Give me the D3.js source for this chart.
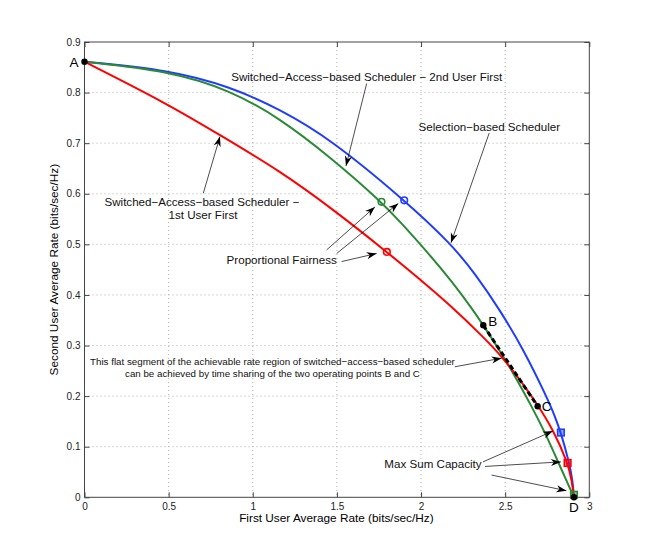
<!DOCTYPE html>
<html>
<head>
<meta charset="utf-8">
<script src="https://cdn.jsdelivr.net/npm/d3@7"></script>
<style>
  body { margin: 0; background: #fff; }
  svg { font-family: "Liberation Sans", Arial, Helvetica, sans-serif; }
</style>
</head>
<body>
<svg id="chart"></svg>
<script>
// axis ticks
const xTicks = [0, 0.5, 1, 1.5, 2, 2.5, 3];
const yTicks = [0, 0.1, 0.2, 0.3, 0.4, 0.5, 0.6, 0.7, 0.8, 0.9];

// selection-based scheduler (blue)
const selX = [0, 0.498, 0.865, 1.162, 1.459, 1.900, 2.177, 2.326, 2.469, 2.611, 2.746, 2.796, 2.831, 2.881, 2.900, 2.909];
const selY = [0.861, 0.845, 0.812, 0.767, 0.709, 0.588, 0.502, 0.440, 0.370, 0.291, 0.199, 0.160, 0.128, 0.068, 0.035, 0];

// switched-access, 2nd user first (green)
const sw2X = [0, 0.498, 0.865, 1.162, 1.459, 1.765, 1.875, 2.053, 2.182, 2.310, 2.370, 2.493, 2.570, 2.647, 2.736, 2.825, 2.909];
const sw2Y = [0.861, 0.843, 0.805, 0.749, 0.673, 0.584, 0.545, 0.479, 0.427, 0.370, 0.340, 0.277, 0.232, 0.186, 0.129, 0.062, 0];

// switched-access, 1st user first (red)
const sw1X = [0, 0.498, 0.805, 1.162, 1.478, 1.797, 1.993, 2.172, 2.370, 2.489, 2.588, 2.687, 2.786, 2.872, 2.895, 2.909];
const sw1Y = [0.861, 0.777, 0.716, 0.645, 0.569, 0.485, 0.431, 0.380, 0.317, 0.275, 0.232, 0.186, 0.133, 0.068, 0.035, 0];

// proportional fairness points (circles), max sum capacity points (squares)
const pfPts = [[1.900, 0.587, "blue"], [1.765, 0.584, "green"], [1.797, 0.485, "red"]];
const maxPts = [[2.831, 0.128, "blue"], [2.871, 0.068, "red"], [2.909, 0.005, "green"]];

// labelled operating points
const opNames = ["A", "B", "C", "D"];
const opX = [0, 2.370, 2.693, 2.909];
const opY = [0.861, 0.340, 0.180, 0];

// annotation arrows [x0, y0, x1, y1] in data units
const arrows = [
  [1.677, 0.818, 1.554, 0.655],
  [2.405, 0.720, 2.178, 0.503],
  [0.706, 0.601, 0.805, 0.713],
  [1.439, 0.489, 1.726, 0.574],
  [1.499, 0.482, 1.865, 0.581],
  [1.528, 0.466, 1.736, 0.482],
  [2.201, 0.258, 2.479, 0.275],
  [2.368, 0.070, 2.784, 0.131],
  [2.380, 0.061, 2.831, 0.070],
  [2.419, 0.044, 2.864, 0.013]
];

// annotation texts [text, x, y, size]
const notes = [
  ["Switched\u2212Access\u2212based Scheduler \u2212 2nd User First", 1.677, 0.831, 11.6],
  ["Selection\u2212based Scheduler", 2.406, 0.7325, 11.6],
  ["Switched\u2212Access\u2212based Scheduler \u2212", 0.698, 0.584, 11.6],
  ["1st User First", 0.704, 0.558, 11.6],
  ["Proportional Fairness", 1.172, 0.469, 11.6],
  ["This flat segment of the achievable rate region of switched\u2212access\u2212based scheduler", 1.117, 0.268, 9.75],
  ["can be achieved by time sharing of the two operating points B and C", 1.117, 0.245, 9.75],
  ["Max Sum Capacity", 2.071, 0.066, 11.6]
];

const colors = { blue: "#1f3dff", green: "#2a8a35", red: "#ff0000" };

const W = 651, H = 560;
const margin = { top: 42, right: 61.7, bottom: 62.7, left: 84.5 };
const width = W - margin.left - margin.right;
const height = H - margin.top - margin.bottom;

const svg = d3.select("#chart").attr("width", W).attr("height", H);

const defs = svg.append("defs");
defs.append("marker")
    .attr("id", "head")
    .attr("viewBox", "-11 -4 12 8")
    .attr("refX", 0).attr("refY", 0)
    .attr("markerUnits", "userSpaceOnUse")
    .attr("markerWidth", 12).attr("markerHeight", 8)
    .attr("orient", "auto")
  .append("path")
    .attr("d", "M0,0 L-10,-3.6 L-7,0 L-10,3.6 Z")
    .attr("fill", "#000");

const g = svg.append("g").attr("transform", `translate(${margin.left},${margin.top})`);

const x = d3.scaleLinear().domain([0, 3]).range([0, width]);
const y = d3.scaleLinear().domain([0, 0.9]).range([height, 0]);

// grid
g.append("g").selectAll("line").data(xTicks.slice(1, -1)).join("line")
    .attr("x1", d => x(d)).attr("x2", d => x(d))
    .attr("y1", 0).attr("y2", height)
    .attr("stroke", "#b0b0b0").attr("stroke-dasharray", "1,3");
g.append("g").selectAll("line").data(yTicks.slice(1, -1)).join("line")
    .attr("y1", d => y(d)).attr("y2", d => y(d))
    .attr("x1", 0).attr("x2", width)
    .attr("stroke", "#b0b0b0").attr("stroke-dasharray", "1,3");

// axes, inward ticks on all four sides
const fmt = d3.format("");
g.append("g").attr("transform", `translate(0,${height})`)
    .call(d3.axisBottom(x).tickValues(xTicks).tickSize(-5).tickPadding(6).tickFormat(fmt));
g.append("g")
    .call(d3.axisLeft(y).tickValues(yTicks).tickSize(-5).tickPadding(4).tickFormat(fmt));
g.append("g").call(d3.axisTop(x).tickValues(xTicks).tickSize(-5).tickFormat(""));
g.append("g").attr("transform", `translate(${width},0)`)
    .call(d3.axisRight(y).tickValues(yTicks).tickSize(-5).tickFormat(""));
g.selectAll(".domain").remove();
g.selectAll(".tick line").attr("stroke", "#444");
g.selectAll(".tick text").attr("font-size", 10).attr("fill", "#222")
    .attr("font-family", "'Liberation Sans', Arial, sans-serif");

g.append("rect").attr("width", width).attr("height", height)
    .attr("fill", "none").attr("stroke", "#444").attr("stroke-width", 1);

// curves (B-spline smooths the hand-read points)
const line = d3.line().x(d => x(d[0])).y(d => y(d[1])).curve(d3.curveBasis);
const series = [
  [d3.zip(selX, selY), colors.blue],
  [d3.zip(sw2X, sw2Y), colors.green],
  [d3.zip(sw1X, sw1Y), colors.red]
];
g.append("g").selectAll("path").data(series).join("path")
    .attr("d", d => line(d[0]))
    .attr("fill", "none")
    .attr("stroke", d => d[1])
    .attr("stroke-width", 2);

// time-sharing segment B-C
g.append("line")
    .attr("x1", x(opX[1])).attr("y1", y(opY[1]))
    .attr("x2", x(opX[2])).attr("y2", y(opY[2]))
    .attr("stroke", "#000").attr("stroke-width", 3)
    .attr("stroke-dasharray", "5,3");

// proportional fairness circles
g.append("g").selectAll("circle").data(pfPts).join("circle")
    .attr("cx", d => x(d[0])).attr("cy", d => y(d[1]))
    .attr("r", 3.3)
    .attr("fill", "none")
    .attr("stroke", d => colors[d[2]])
    .attr("stroke-width", 1.6);

// max sum capacity squares
g.append("g").selectAll("rect").data(maxPts).join("rect")
    .attr("x", d => x(d[0]) - 3.3).attr("y", d => y(d[1]) - 3.3)
    .attr("width", 6.6).attr("height", 6.6)
    .attr("fill", d => colors[d[2]]).attr("fill-opacity", 0.45)
    .attr("stroke", d => colors[d[2]])
    .attr("stroke-width", 1.6);

// operating points A..D
g.append("g").selectAll("circle").data(opX).join("circle")
    .attr("cx", d => x(d)).attr("cy", (d, i) => y(opY[i]))
    .attr("r", 3.2).attr("fill", "#000");

const opOffset = { A: [-6, 5, "end"], B: [5, 1, "start"], C: [4, 5, "start"], D: [0, 14.5, "middle"] };
g.append("g").selectAll("text").data(opNames).join("text")
    .attr("x", (d, i) => x(opX[i]) + opOffset[d][0])
    .attr("y", (d, i) => y(opY[i]) + opOffset[d][1])
    .attr("text-anchor", d => opOffset[d][2])
    .attr("font-size", 13.5)
    .text(d => d);

// arrows
g.append("g").selectAll("line").data(arrows).join("line")
    .attr("x1", d => x(d[0])).attr("y1", d => y(d[1]))
    .attr("x2", d => x(d[2])).attr("y2", d => y(d[3]))
    .attr("stroke", "#000").attr("stroke-width", 0.7)
    .attr("marker-end", "url(#head)");

// annotation texts
g.append("g").selectAll("text").data(notes).join("text")
    .attr("x", d => x(d[1])).attr("y", d => y(d[2]))
    .attr("dy", "0.35em")
    .attr("text-anchor", "middle")
    .attr("font-size", d => d[3])
    .attr("fill", "#111")
    .text(d => d[0]);

// axis titles
g.append("text")
    .attr("x", width / 2 - 0.5).attr("y", height + 25)
    .attr("text-anchor", "middle")
    .attr("font-size", 11.8)
    .text("First User Average Rate (bits/sec/Hz)");
g.append("text")
    .attr("transform", `translate(${-27},${height / 2}) rotate(-90)`)
    .attr("text-anchor", "middle")
    .attr("font-size", 11.8)
    .text("Second User Average Rate (bits/sec/Hz)");
</script>
</body>
</html>
